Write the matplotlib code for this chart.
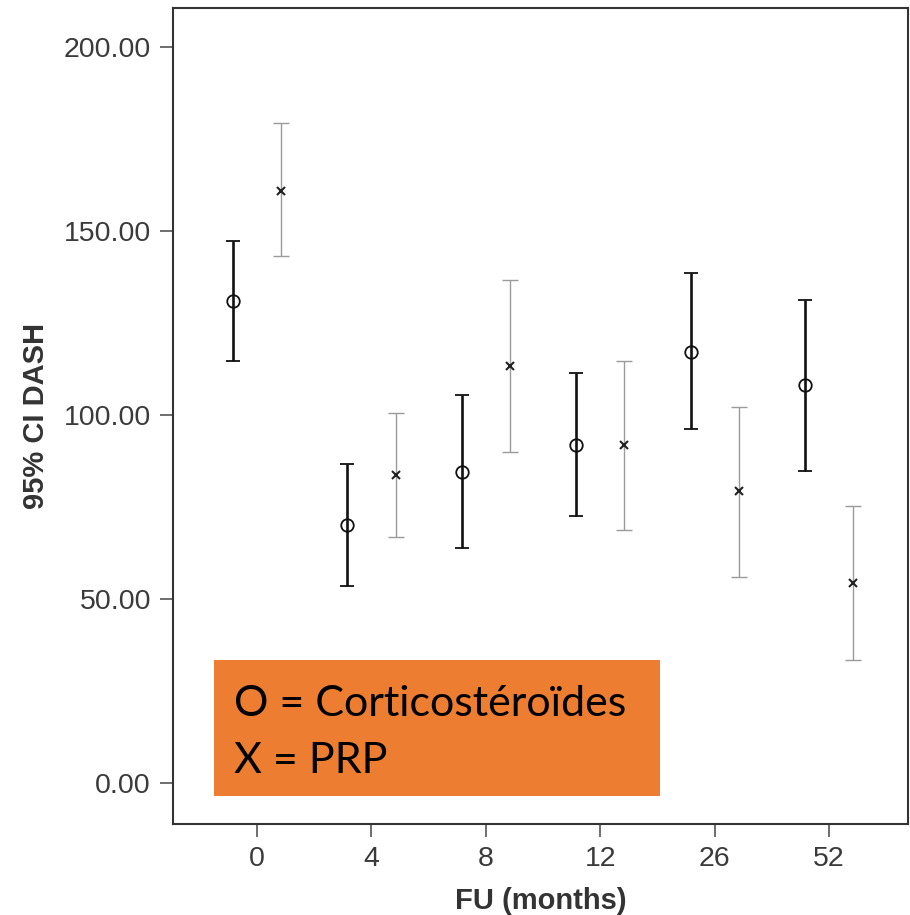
import matplotlib
matplotlib.use("Agg")
import matplotlib.pyplot as plt
from matplotlib.patches import Rectangle
import numpy as np

# follow-up months (categories)
months = ["0", "4", "8", "12", "26", "52"]

# corticosteroides (O) : mean and 95% CI
cort_mean = [131.0, 70.1, 84.6, 92.0, 117.2, 108.2]
cort_low = [114.8, 53.5, 64.0, 72.7, 96.1, 84.9]
cort_high = [147.4, 86.7, 105.4, 111.3, 138.7, 131.2]

# PRP (X) : mean and 95% CI
prp_mean = [161.0, 83.7, 113.3, 91.8, 79.4, 54.5]
prp_low = [143.2, 66.8, 90.0, 68.8, 56.1, 33.4]
prp_high = [179.3, 100.7, 136.7, 114.8, 102.1, 75.4]

yticks = [0, 50, 100, 150, 200]

W, H = 910, 915
fig = plt.figure(figsize=(W / 100, H / 100), dpi=100)
ax = fig.add_axes([173 / W, (H - 824) / H, (908 - 173) / W, (824 - 8) / H])

x = np.arange(len(months))
off = 0.21

cm = np.array(cort_mean)
ax.errorbar(x - off, cm, yerr=[cm - np.array(cort_low), np.array(cort_high) - cm],
            fmt="o", color="#111111", ecolor="#111111", elinewidth=1.9, capsize=5, capthick=1.9,
            markersize=9, fillstyle="none", markeredgewidth=1.3)

pm = np.array(prp_mean)
ax.errorbar(x + off, pm, yerr=[pm - np.array(prp_low), np.array(prp_high) - pm],
            fmt="none", ecolor="#9a9a9a", elinewidth=1.0, capsize=6, capthick=1.0)
ax.plot(x + off, pm, "x", color="#222222", markersize=6, markeredgewidth=1.5)

ax.set_xlim(-0.735, 5.69)
ax.set_ylim(-11.1, 210.6)
ax.set_xticks(x)
ax.set_xticklabels(months)
ax.set_yticks(yticks)
ax.set_yticklabels(["%.2f" % v for v in yticks])

for s in ax.spines.values():
    s.set_linewidth(1.5)
    s.set_color("#333333")
ax.tick_params(direction="out", length=9.4, width=1.2, color="#555555",
               labelsize=20.5, labelcolor="#3a3a3a", pad=6.5)
for lab in ax.get_xticklabels() + ax.get_yticklabels():
    lab.set_family("Liberation Sans")

ax.set_xlabel("FU (months)", fontsize=21, fontweight="bold", family="Liberation Sans",
              color="#333333", labelpad=11)
ax.set_ylabel("95% CI DASH", fontsize=21, fontweight="bold", family="Liberation Sans",
              color="#333333", labelpad=10)

# orange legend box
fig.patches.append(Rectangle((214 / W, (H - 796) / H), (660 - 214) / W, (796 - 660) / H,
                             transform=fig.transFigure, facecolor="#ED7D31", edgecolor="none",
                             zorder=5))
fig.text(234 / W, (H - 716) / H, "O = Corticostéroïdes", fontsize=31, family="Lato",
         color="black", va="baseline", zorder=6)
fig.text(234 / W, (H - 773) / H, "X = PRP", fontsize=31, family="Lato",
         color="black", va="baseline", zorder=6)

fig.savefig("out.png", dpi=100)
